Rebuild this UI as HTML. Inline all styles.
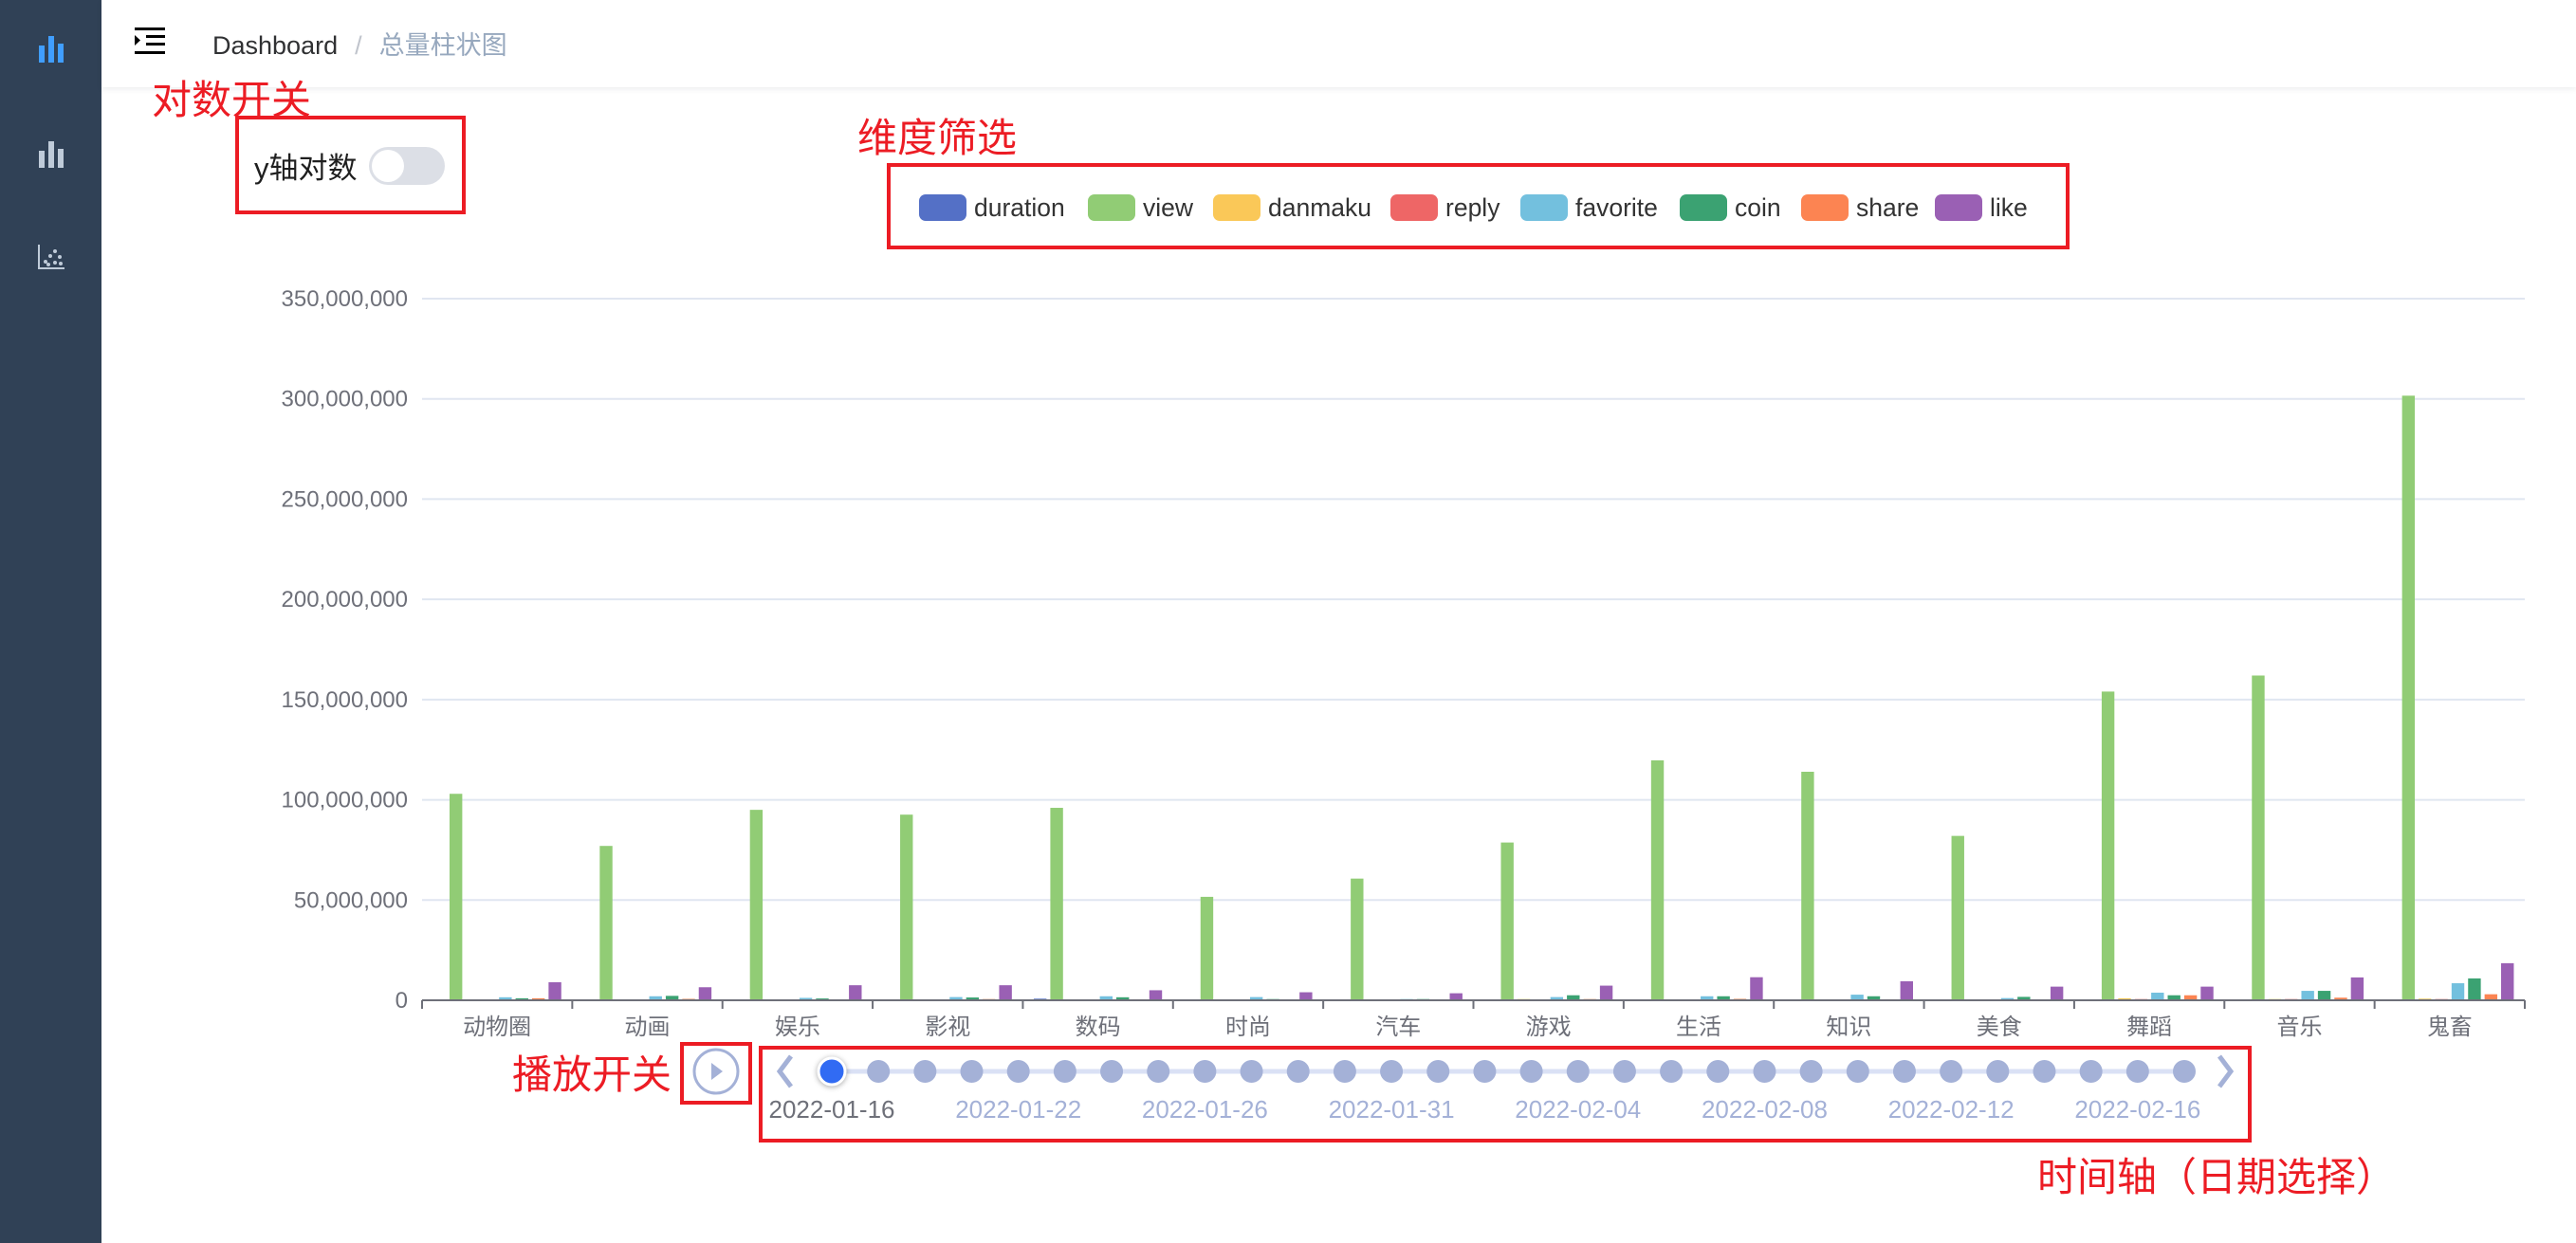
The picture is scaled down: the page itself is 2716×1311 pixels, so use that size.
<!DOCTYPE html>
<html><head><meta charset="utf-8">
<style>
html,body{margin:0;padding:0;width:2716px;height:1311px;overflow:hidden;background:#fff;font-family:"Liberation Sans","Noto Sans CJK SC",sans-serif;}
.abs{position:absolute;}
.red{color:#ec1c24;font-size:42px;font-family:"Noto Sans CJK SC",sans-serif;white-space:nowrap;line-height:1;}
.box{position:absolute;border:4px solid #ec1c24;box-sizing:border-box;}
</style></head><body>
<div class="abs" style="left:0;top:0;width:107px;height:1311px;background:#304156;">
  <svg class="abs" style="left:38px;top:36px" width="34" height="30"><rect x="3" y="12" width="6" height="18" fill="#409eff"/><rect x="13" y="2" width="6" height="28" fill="#409eff"/><rect x="23" y="10" width="6" height="20" fill="#409eff"/></svg>
  <svg class="abs" style="left:38px;top:147px" width="34" height="30"><rect x="3" y="12" width="6" height="18" fill="#bfcbd9"/><rect x="13" y="2" width="6" height="28" fill="#bfcbd9"/><rect x="23" y="10" width="6" height="20" fill="#bfcbd9"/></svg>
  <svg class="abs" style="left:38px;top:256px" width="34" height="30"><path d="M3 2 V27 H30" stroke="#bfcbd9" stroke-width="2" fill="none"/><g fill="#bfcbd9"><circle cx="10" cy="20" r="2"/><circle cx="15" cy="14" r="2"/><circle cx="20" cy="9" r="2"/><circle cx="25" cy="15" r="2"/><circle cx="20" cy="21" r="2"/><circle cx="26" cy="22" r="2"/><circle cx="13" cy="23" r="2"/></g></svg>
</div>
<div class="abs" style="left:107px;top:0;width:2609px;height:92px;background:#fff;box-shadow:0 2px 6px rgba(0,21,41,0.08);">
  <svg class="abs" style="left:35px;top:28px" width="34" height="30"><rect x="0" y="1" width="32" height="3" fill="#000"/><rect x="12" y="9" width="20" height="3" fill="#000"/><rect x="12" y="17" width="20" height="3" fill="#000"/><rect x="0" y="26" width="32" height="3" fill="#000"/><path d="M0 9 L6 14.5 L0 20 Z" fill="#000"/></svg>
  <div class="abs" style="left:117px;top:26px;font-size:27px;white-space:nowrap;"><span style="color:#303133">Dashboard</span><span style="color:#c0c4cc;margin:0 18px">/</span><span style="color:#97a8be;font-family:'Noto Sans CJK SC',sans-serif">总量柱状图</span></div>
</div>

<div class="red abs" style="left:160px;top:82px">对数开关</div>
<div class="box" style="left:248px;top:122px;width:243px;height:104px"></div>
<div class="abs" style="left:268px;top:152px;font-size:31px;color:#1f1f1f;font-family:'Liberation Sans','Noto Sans CJK SC',sans-serif">y轴对数</div>
<div class="abs" style="left:389px;top:155px;width:80px;height:40px;border-radius:20px;background:#dcdfe6"><div style="position:absolute;left:3px;top:3px;width:34px;height:34px;border-radius:17px;background:#fff"></div></div>

<div class="red abs" style="left:904px;top:122px">维度筛选</div>
<div class="box" style="left:935px;top:172px;width:1247px;height:91px"></div>

<div class="red abs" style="left:540px;top:1110px">播放开关</div>
<div class="box" style="left:717px;top:1099px;width:76px;height:66px"></div>
<div class="box" style="left:800px;top:1103px;width:1574px;height:102px"></div>
<div class="red abs" style="left:2148px;top:1218px">时间轴（日期选择）</div>

<svg id="chart" class="abs" style="left:0;top:0" width="2716" height="1311"></svg>

<script>
const categories = ["动物圈","动画","娱乐","影视","数码","时尚","汽车","游戏","生活","知识","美食","舞蹈","音乐","鬼畜"];
const seriesNames = ["duration","view","danmaku","reply","favorite","coin","share","like"];
const seriesColors = ["#5470c6","#91cc75","#fac858","#ee6666","#73c0de","#3ba272","#fc8452","#9a60b4"];
// values in millions
const duration = [0.2,0.1,0.1,0.2,0.8,0.1,0.1,0.3,0.2,0.3,0.3,0.3,0.4,0.3];
const view     = [103,77,95,92.6,96,51.6,60.7,78.7,119.7,114,82,154,162,301.6];
const danmaku  = [0.3,0.3,0.4,0.3,0.3,0.2,0.2,0.6,0.4,0.4,0.3,1.0,0.6,0.8];
const reply    = [0.3,0.3,0.3,0.3,0.3,0.2,0.2,0.4,0.4,0.4,0.3,0.6,0.6,0.6];
const favorite = [1.5,2.0,1.2,1.6,2.0,1.6,0.6,1.6,2.0,2.8,1.1,3.8,4.7,8.5];
const coin     = [1.0,2.2,0.9,1.4,1.5,0.6,0.6,2.5,2.0,2.0,1.7,2.5,4.7,10.9];
const share    = [1.0,0.7,0.4,0.6,0.5,0.3,0.2,0.6,0.7,0.5,0.3,2.5,1.3,3.0];
const like     = [9.0,6.5,7.5,7.5,5.0,4.0,3.5,7.3,11.5,9.5,6.8,6.8,11.4,18.5];
const seriesData = [duration,view,danmaku,reply,favorite,coin,share,like];
const yTicks = [0,50,100,150,200,250,300,350];
const dates = ["2022-01-16","2022-01-18","2022-01-19","2022-01-20","2022-01-22","2022-01-23","2022-01-24","2022-01-25","2022-01-26","2022-01-27","2022-01-28","2022-01-30","2022-01-31","2022-02-01","2022-02-02","2022-02-03","2022-02-04","2022-02-05","2022-02-06","2022-02-07","2022-02-08","2022-02-09","2022-02-10","2022-02-11","2022-02-12","2022-02-13","2022-02-14","2022-02-15","2022-02-16","2022-02-17"];
const activeDate = 0;

const NS = "http://www.w3.org/2000/svg";
const svg = document.getElementById('chart');
function mk(tag, attrs, parent){const e=document.createElementNS(NS,tag);for(const k in attrs)e.setAttribute(k,attrs[k]);(parent||svg).appendChild(e);return e;}
const X0=445, X1=2662, Y0=1055, YTOP=315, YMAX=350;
const catW=(X1-X0)/categories.length;
function yScale(v){return Y0-(v/YMAX)*(Y0-YTOP);}
function xCat(i){return X0+i*catW;}
const fmt=v=>(v*1000000).toLocaleString('en-US');

yTicks.forEach(t=>{
  const y=yScale(t);
  if(t>0){const g=mk('line',{x1:X0,x2:X1,y1:y,y2:y,stroke:'#e0e6f1','stroke-width':2});
  
  }
  const tx=mk('text',{x:430,y:y+8,'text-anchor':'end','font-size':24,fill:'#6e7079','font-family':'Liberation Sans, sans-serif'});
  tx.textContent=fmt(t);
  
  
});
const barW=13.4, pitch=17.4, off=(catW-(8*barW+7*(pitch-barW)))/2;
categories.forEach((c,i)=>{
  seriesData.forEach((arr,s)=>{
    const v=arr[i]; const y=yScale(v);
    const r=mk('rect',{x:xCat(i)+off+s*pitch,y:y,width:barW,height:Math.max(0,Y0-y),fill:seriesColors[s]});
    
    
  });
  const lb=mk('text',{x:xCat(i)+catW/2,y:1091,'text-anchor':'middle','font-size':24,fill:'#6e7079','font-family':'Noto Sans CJK SC, sans-serif'});
  lb.textContent=c;
  
  
});
const ax=mk('line',{x1:X0,x2:X1,y1:Y0,y2:Y0,stroke:'#6e7079','stroke-width':2});


for(let i=0;i<=categories.length;i++){
  const t=mk('line',{x1:xCat(i),x2:xCat(i),y1:Y0,y2:Y0+9,stroke:'#6e7079','stroke-width':2});
  
  
}
const legX=[969,1147,1279,1466,1603,1771,1899,2040];
seriesNames.forEach((n,s)=>{
  const g=mk('g',{});
  
  
  mk('rect',{x:legX[s],y:205,width:50,height:28,rx:7,fill:seriesColors[s]},g);
  const t=mk('text',{x:legX[s]+58,y:228,'font-size':26.5,fill:'#333','font-family':'Liberation Sans, sans-serif'},g);
  t.textContent=n;
});
const TX0=877, TX1=2303, TY=1130;
const tStep=(TX1-TX0)/(dates.length-1);
const tl=mk('line',{x1:TX0,x2:TX1,y1:TY,y2:TY,stroke:'#dae1f5','stroke-width':5});


dates.forEach((d,i)=>{
  const x=TX0+i*tStep;
  if(i===activeDate){
    const c=mk('circle',{cx:x,cy:TY,r:14,fill:'#316bf3',stroke:'#fff','stroke-width':3,style:'filter:drop-shadow(0 1px 3px rgba(0,0,0,0.35))'});
    
    
  } else {
    const c=mk('circle',{cx:x,cy:TY,r:12,fill:'#a4b1d7'});
    
    
  }
  if(i%4===0){
    const t=mk('text',{x:x,y:1179,'text-anchor':'middle','font-size':26,fill:i===activeDate?'#6e7079':'#a4b1d7','font-family':'Liberation Sans, sans-serif'});
    t.textContent=d;
    
    
  }
});
const pa=mk('path',{d:'M834 1114 L822 1130 L834 1146',stroke:'#a4b1d7','stroke-width':5,fill:'none'});


const na=mk('path',{d:'M2340 1114 L2352 1130 L2340 1146',stroke:'#a4b1d7','stroke-width':5,fill:'none'});


const pg=mk('g',{});


mk('circle',{cx:755,cy:1130,r:23,fill:'none',stroke:'#a4b1d7','stroke-width':3},pg);
mk('path',{d:'M750 1121 L762 1130 L750 1139 Z',fill:'#a4b1d7'},pg);
</script>
</body></html>
